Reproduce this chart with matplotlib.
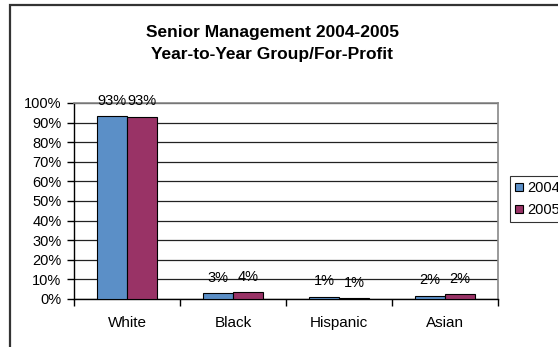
import matplotlib.pyplot as plt
import numpy as np
from matplotlib.patches import Rectangle, Patch
from matplotlib.ticker import PercentFormatter, FixedLocator

plt.rcParams['font.family'] = ['Liberation Sans', 'DejaVu Sans']

categories = ["White", "Black", "Hispanic", "Asian"]
years = ["2004", "2005"]
share_2004 = [0.933, 0.030, 0.012, 0.017]
share_2005 = [0.930, 0.036, 0.006, 0.024]
colors = ["#5B8FC7", "#993366"]

W, H = 558, 347
fig = plt.figure(figsize=(W / 100, H / 100), dpi=100)

# outer chart frame (runs off the right and bottom edges)
fig.patches.append(Rectangle((10 / W, -0.1), 1.2, 1 - 5 / H + 0.1, transform=fig.transFigure,
                             fill=False, edgecolor="#333333", lw=1.6))

fig.text(272 / W, 1 - 33 / H, "Senior Management 2004-2005", ha="center", va="center",
         fontsize=12.5, fontweight="bold")
fig.text(272 / W, 1 - 55 / H, "Year-to-Year Group/For-Profit", ha="center", va="center",
         fontsize=12.5, fontweight="bold")

ax = fig.add_axes([74 / W, 48 / H, (498 - 74) / W, (299 - 103) / H])
x = np.arange(len(categories))
bw = 0.283
for i, (vals, c) in enumerate(zip([share_2004, share_2005], colors)):
    pos = x + (i - 0.5) * bw
    ax.bar(pos, vals, width=bw, color=c, edgecolor="black", linewidth=0.8, zorder=3)
    for px, v in zip(pos, vals):
        ax.annotate(f"{v:.0%}", (px, v), xytext=(0, 11), textcoords="offset points",
                    ha="center", va="center", fontsize=10.5, zorder=4)

ax.set_xlim(-0.5, len(categories) - 0.5)
ax.set_ylim(0, 1)
ax.yaxis.set_major_locator(FixedLocator(np.arange(0, 1.01, 0.1)))
ax.yaxis.set_major_formatter(PercentFormatter(1.0, decimals=0))
ax.grid(axis="y", color="#222222", lw=0.9, zorder=1)
ax.set_xticks(np.arange(-0.5, len(categories), 1.0))
ax.set_xticklabels([])
ax.set_xticks(x, minor=True)
ax.set_xticklabels(categories, minor=True)
ax.tick_params(axis="x", which="minor", length=0, pad=12, labelsize=11)
ax.tick_params(axis="x", which="major", length=5, width=1, direction="out")
ax.tick_params(axis="y", length=5, width=1, direction="out", labelsize=10.5, pad=4)
for s in ["top", "right"]:
    ax.spines[s].set_color("#888888")
    ax.spines[s].set_linewidth(1.2)
for s in ["left", "bottom"]:
    ax.spines[s].set_color("black")
    ax.spines[s].set_linewidth(1.0)

handles = [Patch(facecolor=c, edgecolor="black", lw=0.8) for c in colors]
leg = fig.legend(handles, years, loc="upper left", bbox_to_anchor=(510 / W, 1 - 176 / H),
                 bbox_transform=fig.transFigure, fontsize=10.5, frameon=True, fancybox=False,
                 handlelength=0.55, handleheight=0.55, handletextpad=0.3, labelspacing=0.55,
                 borderpad=0.35, borderaxespad=0)
leg.get_frame().set_edgecolor("black")
leg.get_frame().set_linewidth(0.8)

fig.savefig("out.png", dpi=100)
